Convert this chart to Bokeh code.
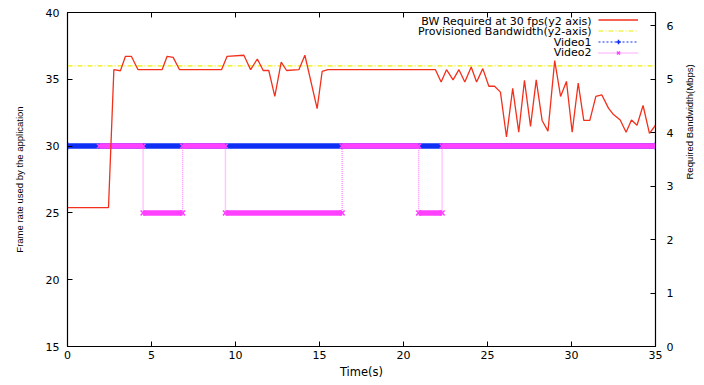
import math
from bokeh.plotting import figure
from bokeh.models import (Range1d, LinearAxis, Legend, LegendItem, Label,
                          FixedTicker, CustomJSTickFormatter)
from bokeh.core.properties import value
from bokeh.embed import file_html
from bokeh.resources import INLINE

# ---------------- data ----------------
bw_time = [0, 2.44, 2.76, 3.15, 3.45, 3.8, 4.2, 5.63, 5.93, 6.29, 6.67, 9.17, 9.5,
           10.5, 10.9, 11.3, 11.65, 11.98, 12.34, 12.72, 13.04, 13.77, 14.13, 14.86,
           15.16, 15.5, 21.9, 22.24, 22.56, 22.95, 23.3, 23.65, 24.03, 24.35, 24.72,
           25.08, 25.42, 25.77, 26.13, 26.5, 26.86, 27.2, 27.56, 27.9, 28.25, 28.6,
           29.0, 29.35, 29.7, 30.04, 30.4, 30.73, 31.09, 31.45, 31.8, 32.2, 32.5,
           32.9, 33.25, 33.57, 33.9, 34.26, 34.64, 35.0]
bw_mbps = [2.60, 2.60, 5.18, 5.16, 5.43, 5.43, 5.18, 5.18, 5.43, 5.41, 5.18, 5.18, 5.43,
           5.45, 5.18, 5.38, 5.165, 5.165, 4.68, 5.32, 5.165, 5.18, 5.45, 4.45,
           5.15, 5.18, 5.18, 4.95, 5.18, 4.99, 5.18, 4.95, 5.23, 4.95, 5.20,
           4.87, 4.87, 4.76, 3.92, 4.83, 4.01, 4.98, 4.12, 4.99, 4.23, 4.03,
           5.35, 4.68, 4.96, 4.01, 4.93, 4.23, 4.23, 4.68, 4.71, 4.46, 4.34,
           4.24, 4.01, 4.24, 4.14, 4.51, 3.99, 4.14]

prov_time = [0, 35]
prov_mbps = [5.25, 5.25]

video1_time = [0, 35]
video1_fps = [30, 30]

video2_time = [1.9, 4.5, 4.5, 6.85, 6.85, 9.4, 9.4, 16.35, 16.35, 20.9, 20.9, 22.3, 22.3, 35]
video2_fps = [30, 30, 25, 25, 30, 30, 25, 25, 30, 30, 25, 25, 30, 30]

x_ticks = [0, 5, 10, 15, 20, 25, 30, 35]
y_ticks = [15, 20, 25, 30, 35, 40]
y2_ticks = [0, 1, 2, 3, 4, 5, 6]

legend_labels = ["BW Required at 30 fps(y2 axis)", "Provisioned Bandwidth(y2-axis)",
                 "Video1", "Video2"]

# ---------------- styles ----------------
RED = "#f2301c"
YELLOW = "#eeee00"
BLUE = "#0f2ff5"
MAGENTA = "#ff40ff"
LIGHT_MAGENTA = "#ff8cff"
TICK_FONT = "DejaVu Sans"

p = figure(width=704, height=385, output_backend="svg", toolbar_location=None,
           x_range=Range1d(0, 35), y_range=Range1d(15, 40),
           min_border_left=67, min_border_right=49, min_border_top=12,
           min_border_bottom=39)
p.extra_y_ranges = {"y2": Range1d(0, 6.25)}
p.grid.visible = False
p.outline_line_color = "black"
p.outline_line_width = 1.2
p.background_fill_color = "white"
p.border_fill_color = "white"

def style_axis(ax):
    ax.major_tick_in = 5
    ax.major_tick_out = 0
    ax.minor_tick_line_color = None
    ax.axis_line_color = "black"
    ax.major_tick_line_color = "black"
    ax.major_label_text_font = TICK_FONT
    ax.major_label_text_font_size = "11px"
    ax.major_label_text_color = "black"
    ax.axis_label_text_font_style = "normal"
    ax.axis_label_text_color = "black"

xa = p.xaxis[0]
style_axis(xa)
xa.ticker = FixedTicker(ticks=x_ticks)
xa.axis_label = "Time(s)"
xa.axis_label_text_font = TICK_FONT
xa.axis_label_text_font_size = "11.5px"
xa.major_label_standoff = 4
xa.axis_label_standoff = 3

ya = p.yaxis[0]
style_axis(ya)
ya.ticker = FixedTicker(ticks=y_ticks)
ya.axis_label = "Frame rate used by the application"
ya.axis_label_text_font = "Liberation Sans"
ya.axis_label_text_font_size = "9.5px"
ya.major_label_standoff = 8
ya.axis_label_standoff = 18

y2a = LinearAxis(y_range_name="y2", ticker=FixedTicker(ticks=y2_ticks),
                 axis_label="Required Bandwidth(Mbps)")
style_axis(y2a)
y2a.axis_label_text_font = "Liberation Sans"
y2a.axis_label_text_font_size = "9.5px"
y2a.axis_label_orientation = math.pi / 2
y2a.major_label_standoff = 11
y2a.axis_label_standoff = 13
p.add_layout(y2a, "right")

top = LinearAxis(ticker=FixedTicker(ticks=x_ticks),
                 formatter=CustomJSTickFormatter(code="return ''"))
style_axis(top)
top.major_label_text_font_size = "1px"
top.major_label_standoff = 0
p.add_layout(top, "above")

# ---------------- marks ----------------
# Video1
p.segment(x0=[video1_time[0]], x1=[video1_time[-1]], y0=[video1_fps[0]], y1=[video1_fps[-1]],
          line_color=BLUE, line_width=5.5)
r_v1_line = p.line(video1_time, video1_fps, line_color=BLUE, line_width=1, line_dash="2 2")
r_v1_mark = p.scatter(video1_time, video1_fps, marker="cross", size=8, line_color=BLUE,
                      line_width=1.5)

# Video2
p.line(video2_time, video2_fps, line_color=LIGHT_MAGENTA, line_width=1.4, line_dash="1 1")
p.segment(x0=video2_time[0::2], x1=video2_time[1::2], y0=video2_fps[0::2],
          y1=video2_fps[1::2], line_color=MAGENTA, line_width=5.5)
r_v2_line = p.line(video2_time[:1], video2_fps[:1], line_color=LIGHT_MAGENTA, line_width=1.4,
                   line_dash="1 1")
r_v2_mark = p.scatter(video2_time, video2_fps, marker="x", size=7, line_color=MAGENTA,
                      line_width=1.5)

# Provisioned bandwidth & required bandwidth (y2)
r_prov = p.line(prov_time, prov_mbps, y_range_name="y2", line_color=YELLOW, line_width=1.2,
                line_dash="5 2 1 2")
r_bw = p.line(bw_time, bw_mbps, y_range_name="y2", line_color=RED, line_width=1.3)

# ---------------- legend (text left of sample, right-aligned) ----------------
legend = Legend(items=[
    LegendItem(label=value(""), renderers=[r_bw]),
    LegendItem(label=value(""), renderers=[r_prov]),
    LegendItem(label=value(""), renderers=[r_v1_line, r_v1_mark]),
    LegendItem(label=value(""), renderers=[r_v2_line, r_v2_mark]),
], location=(531, 288), border_line_color=None, background_fill_alpha=0,
   padding=0, margin=0, spacing=0, glyph_height=11, glyph_width=40,
   label_height=10, label_standoff=0, label_text_font_size="6px")
p.add_layout(legend)

row_y = [325.3, 315.0, 304.3, 293.7]
for txt, yy in zip(legend_labels, row_y):
    p.add_layout(Label(x=524, y=yy, x_units="screen", y_units="screen", text=txt,
                       text_align="right", text_baseline="middle",
                       text_font=TICK_FONT, text_font_size="11px", text_color="black"))

open("out.html", "w").write(file_html(p, INLINE))
